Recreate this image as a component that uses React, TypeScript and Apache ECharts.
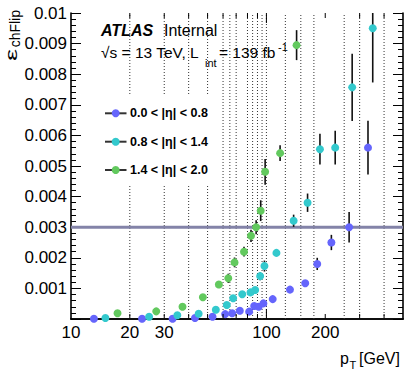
import React, { useEffect, useRef } from 'react';
import * as echarts from 'echarts';

const FONT = "'Liberation Sans', Arial, Helvetica, sans-serif";

const X_MIN = 10;
const X_MAX = 500;
const Y_MIN = 0;
const Y_MAX = 0.01;
const Y_STEP = 0.001;
const THRESHOLD = 0.003;

const binEdges = [20, 30, 40, 50, 60, 65, 70, 80, 85, 90, 95, 100, 125, 150, 175, 250, 300, 400];
const xMajorTicks = [100];
const xMinorTicks = [20, 30, 40, 50, 60, 70, 80, 90, 200, 300, 400];
const xTickLabels = [10, 20, 30, 100, 200];

const seriesNames = ['0.0 < |η| < 0.8', '0.8 < |η| < 1.4', '1.4 < |η| < 2.0'];
const seriesColors = ['#6565fc', '#33c9cd', '#62c95e'];

// 0.0 < |eta| < 0.8
const ptLow = [13.1, 23.1, 33.1, 43.1, 53.0, 61.5, 66.8, 73.1, 81.6, 86.6, 91.3, 96.5, 107.7, 132, 158, 182, 215, 265, 331];
const valLow = [0.00001, 0.00001, 0.00001, 0.00003, 0.000075, 0.00016, 0.00019, 0.00027, 0.00024, 0.000425, 0.0004, 0.00051, 0.00065, 0.00096, 0.00117, 0.0018, 0.0025, 0.003, 0.0056];
const errLow = [0, 0, 0, 0, 0.00001, 0.00001, 0.00001, 0.00002, 0.00002, 0.00003, 0.00003, 0.00003, 0.00003, 0.00004, 0.0001, 0.0002, 0.00025, 0.0005, 0.00088];

// 0.8 < |eta| < 1.4
const ptMid = [15.0, 25.1, 35.0, 45.0, 55.1, 62.7, 67.6, 75.2, 82.9, 87.6, 92.9, 97.7, 112.5, 137.8, 162.4, 187.9, 224.9, 274.7, 350];
const valMid = [0.00003, 0.000075, 0.00012, 0.00017, 0.0003, 0.00046, 0.00068, 0.00081, 0.00087, 0.00095, 0.0014, 0.00173, 0.00216, 0.00321, 0.0038, 0.00555, 0.0056, 0.00757, 0.0095];
const errMid = [0, 0, 0.00001, 0.00001, 0.00002, 0.00002, 0.00003, 0.00003, 0.00003, 0.00004, 0.00013, 0.00018, 0.00004, 0.0002, 0.0003, 0.0005, 0.00055, 0.0011, 0.00177];

// 1.4 < |eta| < 2.0
const ptHigh = [17.3, 27.3, 37.2, 47.3, 57.1, 63.8, 68.7, 76.8, 83.4, 88.6, 93.5, 98.5, 117.5, 142.7];
const valHigh = [0.00019, 0.00025, 0.0004, 0.00071, 0.00113, 0.00133, 0.00185, 0.0022, 0.00272, 0.003, 0.00354, 0.00481, 0.00542, 0.00895];
const errHigh = [0.00001, 0.00001, 0.00002, 0.00003, 0.0001, 0.00015, 0.00016, 0.00016, 0.0002, 0.00023, 0.00034, 0.00042, 0.00026, 0.00049];

export default function App() {
  const ref = useRef<HTMLDivElement>(null);

  useEffect(() => {
    const chart = echarts.init(ref.current!, null, { renderer: 'svg' });
    const groups = [
      { x: ptLow, y: valLow, e: errLow },
      { x: ptMid, y: valMid, e: errMid },
      { x: ptHigh, y: valHigh, e: errHigh },
    ];

    const errSeries = groups.map((g) => ({
      type: 'custom',
      coordinateSystem: 'cartesian2d',
      silent: true,
      z: 3,
      data: g.x.map((x, k) => [x, g.y[k], g.e[k]]),
      renderItem: (_p: any, api: any) => {
        const x = api.value(0);
        const y = api.value(1);
        const e = api.value(2);
        const a = api.coord([x, Math.max(Y_MIN, y - e)]);
        const b = api.coord([x, Math.min(Y_MAX, y + e)]);
        return {
          type: 'line',
          shape: { x1: a[0], y1: a[1], x2: b[0], y2: b[1] },
          style: { stroke: '#111', lineWidth: 1.6 },
        };
      },
    }));

    const pointSeries = groups.map((g, i) => ({
      type: 'scatter',
      name: seriesNames[i],
      symbol: 'circle',
      symbolSize: 8,
      z: 5,
      silent: true,
      itemStyle: { color: seriesColors[i], opacity: 1 },
      data: g.x.map((x, k) => [x, g.y[k]]),
    }));

    const gridLines = {
      type: 'custom',
      coordinateSystem: 'cartesian2d',
      silent: true,
      z: 1,
      data: binEdges.map((v) => [v, Y_MIN]),
      renderItem: (_p: any, api: any) => {
        const v = api.value(0);
        const a = api.coord([v, Y_MIN]);
        const b = api.coord([v, Y_MAX]);
        return {
          type: 'line',
          shape: { x1: a[0], y1: a[1], x2: b[0], y2: b[1] },
          style: { stroke: '#333', lineWidth: 1, lineDash: [1, 2] },
        };
      },
    };

    const tickData = [
      ...xMajorTicks.map((v) => [v, Y_MIN, 1]),
      ...xMinorTicks.map((v) => [v, Y_MIN, 0]),
    ];
    const xTicks = {
      type: 'custom',
      coordinateSystem: 'cartesian2d',
      silent: true,
      clip: false,
      z: 6,
      data: tickData,
      renderItem: (_p: any, api: any) => {
        const v = api.value(0);
        const len = api.value(2) ? 10 : 5;
        const a = api.coord([v, Y_MIN]);
        const b = api.coord([v, Y_MAX]);
        return {
          type: 'group',
          children: [
            { type: 'line', shape: { x1: a[0], y1: a[1], x2: a[0], y2: a[1] - len }, style: { stroke: '#000', lineWidth: 1 } },
            { type: 'line', shape: { x1: b[0], y1: b[1], x2: b[0], y2: b[1] + len }, style: { stroke: '#000', lineWidth: 1 } },
          ],
        };
      },
    };

    const xLabels = {
      type: 'custom',
      coordinateSystem: 'cartesian2d',
      silent: true,
      clip: false,
      z: 6,
      data: xTickLabels.map((v) => [v, Y_MIN]),
      renderItem: (_p: any, api: any) => {
        const v = api.value(0);
        const a = api.coord([v, Y_MIN]);
        return {
          type: 'text',
          x: a[0],
          y: a[1] + 13.5,
          style: {
            text: String(v),
            fontSize: 17,
            fontFamily: FONT,
            fill: '#000',
            align: 'center',
            verticalAlign: 'middle',
          },
        };
      },
    };

    const threshold = {
      type: 'line',
      silent: true,
      z: 2,
      symbol: 'none',
      showSymbol: false,
      data: [[X_MIN, THRESHOLD], [X_MAX, THRESHOLD]],
      lineStyle: { color: '#8383a8', width: 3 },
    };

    const legendY = [113.3, 141.7, 170];
    const legendItems: any[] = [];
    seriesNames.forEach((n, i) => {
      legendItems.push(
        { type: 'line', z: 101, shape: { x1: 105, y1: legendY[i], x2: 126.5, y2: legendY[i] }, style: { stroke: '#333', lineWidth: 2 } },
        { type: 'circle', z: 102, shape: { cx: 115.7, cy: legendY[i], r: 4 }, style: { fill: seriesColors[i] } },
        {
          type: 'text', z: 102, x: 130, y: legendY[i],
          style: { text: n, fontSize: 12.5, fontWeight: 'bold', fontFamily: FONT, fill: '#000', align: 'left', verticalAlign: 'middle' },
        },
      );
    });

    const txt = (text: string, x: number, y: number, size: number, extra: any = {}) => ({
      type: 'text', z: 102, x, y,
      style: { text, fontSize: size, fontFamily: FONT, fill: '#000', align: 'left', verticalAlign: 'middle', ...extra },
    });

    const axisLine = { show: true, lineStyle: { color: '#000', width: 1.6 } };

    // rotated y-axis title: local +x points up the page, local +y points right
    const yTitle = {
      type: 'group',
      x: 0,
      y: 10,
      rotation: Math.PI / 2,
      z: 102,
      children: [
        {
          type: 'text', z: 102, x: -39, y: 11, scaleX: 1.6,
          style: { text: 'ε', fontSize: 17, fontFamily: FONT, fill: '#000', align: 'right', verticalAlign: 'middle' },
        },
        {
          type: 'text', z: 102, x: 0, y: 22,
          style: { text: 'chFlip', fontSize: 14, fontFamily: FONT, fill: '#000', align: 'right', verticalAlign: 'bottom' },
        },
      ],
    };

    chart.setOption({
      animation: false,
      backgroundColor: '#fff',
      grid: { left: 71, right: 2, top: 13, bottom: 54, outerBoundsMode: 'none' },
      xAxis: [
        {
          type: 'log', logBase: 10, min: X_MIN, max: X_MAX, position: 'bottom',
          axisLine, axisTick: { show: false }, axisLabel: { show: false },
          splitLine: { show: false }, minorTick: { show: false },
        },
        {
          type: 'log', logBase: 10, min: X_MIN, max: X_MAX, position: 'top',
          axisLine, axisTick: { show: false }, axisLabel: { show: false },
          splitLine: { show: false },
        },
      ],
      yAxis: [
        {
          type: 'value', min: Y_MIN, max: Y_MAX, interval: Y_STEP, position: 'left',
          axisLine,
          axisTick: { show: true, inside: true, length: 10, lineStyle: { color: '#000', width: 1 } },
          minorTick: { show: true, splitNumber: 5, length: 5, lineStyle: { color: '#000', width: 1 } },
          splitLine: { show: false },
          axisLabel: {
            show: true, margin: 4, fontSize: 17, fontFamily: FONT, color: '#000',
            formatter: (v: number) => (v === 0 ? '' : String(+v.toFixed(3))),
          },
        },
        {
          type: 'value', min: Y_MIN, max: Y_MAX, interval: Y_STEP, position: 'right',
          axisLine,
          axisTick: { show: true, inside: true, length: 10, lineStyle: { color: '#000', width: 1 } },
          minorTick: { show: true, splitNumber: 5, length: 5, lineStyle: { color: '#000', width: 1 } },
          splitLine: { show: false },
          axisLabel: { show: false },
        },
      ],
      series: [gridLines, threshold, ...errSeries, ...pointSeries, xTicks, xLabels],
      graphic: [
        { type: 'rect', z: 100, shape: { x: 84, y: 95, width: 131, height: 90 }, style: { fill: '#fff' } },
        ...legendItems,
        txt('ATLAS', 101, 30.5, 16, { fontWeight: 'bold', fontStyle: 'italic' }),
        txt('Internal', 164, 30.5, 16),
        txt('√s = 13 TeV, L', 101, 52.5, 15.5),
        txt('int', 205, 63, 11),
        txt('= 139 fb', 219, 52.5, 15.5),
        txt('-1', 278, 47, 11),
        yTitle,
        txt('p', 340, 358, 16),
        txt('T', 349.5, 365, 11),
        txt('[GeV]', 359, 358, 16),
      ],
    });

    return () => chart.dispose();
  }, []);

  return <div ref={ref} style={{ position: 'fixed', left: 0, top: 0, width: 405, height: 373 }} />;
}
